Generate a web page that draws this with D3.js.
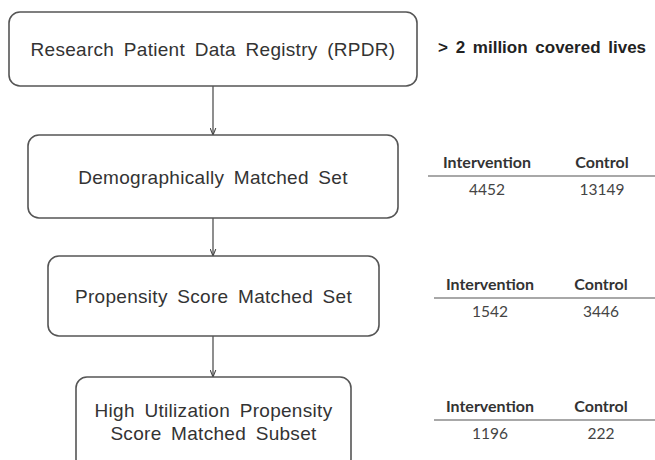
<!DOCTYPE html>
<html><head><meta charset="utf-8">
<script src="https://cdn.jsdelivr.net/npm/d3@7"></script>
<style>body{margin:0;background:#fff}svg{display:block}</style>
</head><body>
<script>
// Data
const steps = [
  ["Research Patient Data Registry (RPDR)"],
  ["Demographically Matched Set"],
  ["Propensity Score Matched Set"],
  ["High Utilization Propensity", "Score Matched Subset"]
];
const registryNote = "> 2 million covered lives";
const columnLabels = ["Intervention", "Control"];
const interventionN = [null, 4452, 1542, 1196];
const controlN = [null, 13149, 3446, 222];

// Layout
const W = 655, H = 460;
const boxes = [
  {x0: 9, x1: 417, y0: 12, y1: 86},
  {x0: 28, x1: 398, y0: 135, y1: 218},
  {x0: 48, x1: 379, y0: 256, y1: 336},
  {x0: 76, x1: 351, y0: 377, y1: 470}
];
const tables = [null,
  {y: 163, line: 176, lx0: 428, c1: 487, c2: 602},
  {y: 285, line: 298, lx0: 434, c1: 490, c2: 601},
  {y: 407, line: 420, lx0: 434, c1: 490, c2: 601}
];

const svg = d3.select("body").append("svg").attr("width", W).attr("height", H);
const defs = svg.append("defs");
defs.append("marker").attr("id", "arr").attr("viewBox", "0 0 10 10")
  .attr("refX", 10).attr("refY", 5).attr("markerWidth", 7).attr("markerHeight", 7)
  .attr("orient", "auto").attr("markerUnits", "userSpaceOnUse")
  .append("path").attr("d", "M0,1 L10,5 L0,9").attr("fill", "none").attr("stroke", "#444").attr("stroke-width", 1.5);

// arrows
const cx = 213;
for (let i = 0; i < steps.length - 1; i++) {
  svg.append("line").attr("x1", cx).attr("x2", cx)
    .attr("y1", boxes[i].y1).attr("y2", boxes[i + 1].y0)
    .attr("stroke", "#444").attr("stroke-width", 1.2).attr("marker-end", "url(#arr)");
}

const g = svg.selectAll("g.step").data(steps).join("g").attr("class", "step");
g.append("rect")
  .attr("x", (d, i) => boxes[i].x0).attr("y", (d, i) => boxes[i].y0)
  .attr("width", (d, i) => boxes[i].x1 - boxes[i].x0)
  .attr("height", (d, i) => boxes[i].y1 - boxes[i].y0)
  .attr("rx", 11).attr("ry", 11)
  .attr("fill", "#fff").attr("stroke", "#555").attr("stroke-width", 1.6);
g.each(function(d, i) {
  const b = boxes[i];
  const midY = i === 3 ? 421 : (b.y0 + b.y1) / 2;
  const t = d3.select(this).append("text")
    .attr("text-anchor", "middle")
    .attr("font-family", "Liberation Sans, Arial, sans-serif")
    .attr("font-size", 19).attr("fill", "#333")
    .attr("letter-spacing", 0.3)
    .attr("word-spacing", 4);
  d.forEach((line, k) => {
    t.append("tspan").attr("x", (b.x0 + b.x1) / 2)
      .attr("y", midY + (k - (d.length - 1) / 2) * 23 + 7)
      .text(line);
  });
});

svg.append("text").attr("x", 438).attr("y", 53)
  .attr("font-family", "Liberation Sans, Arial, sans-serif")
  .attr("font-weight", "bold").attr("font-size", 17).attr("fill", "#222")
  .attr("word-spacing", 3)
  .text(registryNote);

tables.forEach((t, i) => {
  if (!t) return;
  const tg = svg.append("g");
  tg.append("line").attr("x1", t.lx0).attr("x2", W).attr("y1", t.line).attr("y2", t.line)
    .attr("stroke", "#a8a8a8").attr("stroke-width", 2.2);
  [t.c1, t.c2].forEach((c, j) => {
    tg.append("text").attr("x", c).attr("y", t.y + 5).attr("text-anchor", "middle")
      .attr("font-family", "Lato, Open Sans, sans-serif").attr("font-weight", "bold")
      .attr("font-size", 16).attr("fill", "#333").text(columnLabels[j]);
    tg.append("text").attr("x", c).attr("y", t.y + 32).attr("text-anchor", "middle")
      .attr("font-family", "Lato, Open Sans, sans-serif")
      .attr("font-size", 15.5).attr("fill", "#444").text(j === 0 ? interventionN[i] : controlN[i]);
  });
});
</script>
</body></html>
